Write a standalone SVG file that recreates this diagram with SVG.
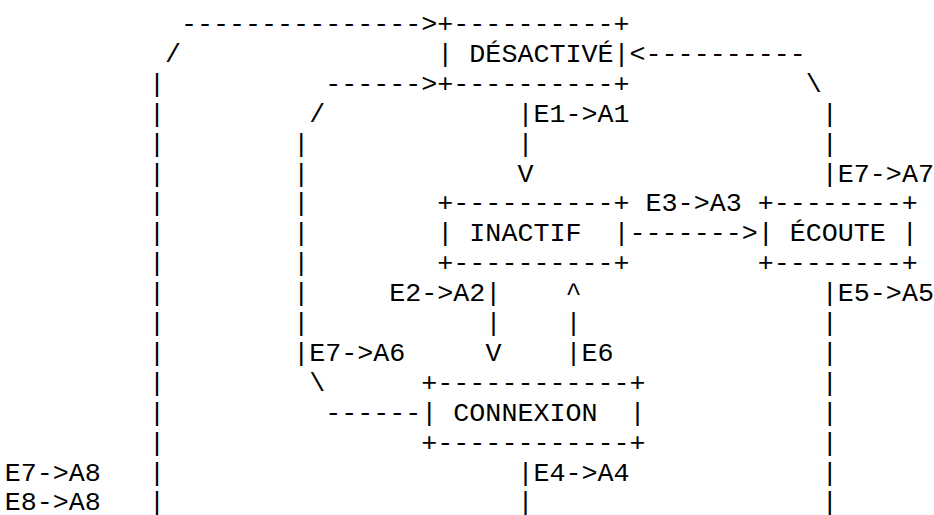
<svg xmlns="http://www.w3.org/2000/svg" width="934" height="515" viewBox="0 0 934 515" xml:space="preserve">
<style>
text{font-family:"Liberation Mono","Courier New",monospace;font-size:26.7px;fill:#000;white-space:pre}
</style>
<rect width="934" height="515" fill="#fff"/>
<g id="connectors">
<text><tspan x="181.02" y="32">---------------&gt;</tspan><tspan x="165" y="61.9">/</tspan><tspan x="629.58" y="61.9">&lt;----------</tspan><tspan x="325.2" y="91.8">------&gt;</tspan><tspan x="805.8" y="91.8">\</tspan><tspan x="309.18" y="121.7">/</tspan><tspan x="517.44" y="121.7">|E1-&gt;A1</tspan><tspan x="517.44" y="151.6">|</tspan><tspan x="517.44" y="181.5">V</tspan><tspan x="821.82" y="181.5">|E7-&gt;A7</tspan><tspan x="645.6" y="211.4">E3-&gt;A3</tspan><tspan x="629.58" y="241.3">-------&gt;</tspan><tspan x="389.28" y="301.1">E2-&gt;A2|</tspan><tspan x="565.5" y="301.1">^</tspan><tspan x="821.82" y="301.1">|E5-&gt;A5</tspan><tspan x="485.4" y="331">|</tspan><tspan x="565.5" y="331">|</tspan><tspan x="293.16" y="360.9">|E7-&gt;A6</tspan><tspan x="485.4" y="360.9">V</tspan><tspan x="565.5" y="360.9">|E6</tspan><tspan x="309.18" y="390.8">\</tspan><tspan x="325.2" y="420.7">------</tspan><tspan x="4.8" y="480.5">E7-&gt;A8</tspan><tspan x="517.44" y="480.5">|E4-&gt;A4</tspan><tspan x="4.8" y="510.4">E8-&gt;A8</tspan><tspan x="517.44" y="510.4">|</tspan></text>
<text><tspan x="148.98" y="91.8">|</tspan><tspan x="148.98" y="121.7">|</tspan><tspan x="148.98" y="151.6">|</tspan><tspan x="148.98" y="181.5">|</tspan><tspan x="148.98" y="211.4">|</tspan><tspan x="148.98" y="241.3">|</tspan><tspan x="148.98" y="271.2">|</tspan><tspan x="148.98" y="301.1">|</tspan><tspan x="148.98" y="331">|</tspan><tspan x="148.98" y="360.9">|</tspan><tspan x="148.98" y="390.8">|</tspan><tspan x="148.98" y="420.7">|</tspan><tspan x="148.98" y="450.6">|</tspan><tspan x="148.98" y="480.5">|</tspan><tspan x="148.98" y="510.4">|</tspan></text>
<text><tspan x="293.16" y="151.6">|</tspan><tspan x="293.16" y="181.5">|</tspan><tspan x="293.16" y="211.4">|</tspan><tspan x="293.16" y="241.3">|</tspan><tspan x="293.16" y="271.2">|</tspan><tspan x="293.16" y="301.1">|</tspan><tspan x="293.16" y="331">|</tspan></text>
<text><tspan x="821.82" y="121.7">|</tspan><tspan x="821.82" y="151.6">|</tspan><tspan x="821.82" y="331">|</tspan><tspan x="821.82" y="360.9">|</tspan><tspan x="821.82" y="390.8">|</tspan><tspan x="821.82" y="420.7">|</tspan><tspan x="821.82" y="450.6">|</tspan><tspan x="821.82" y="480.5">|</tspan><tspan x="821.82" y="510.4">|</tspan></text>
</g>
<g id="node-desactive">
<text><tspan x="437.34" y="32">+----------+</tspan><tspan x="437.34" y="61.9">| DÉSACTIVÉ|</tspan><tspan x="437.34" y="91.8">+----------+</tspan></text>
</g>
<g id="node-inactif">
<text><tspan x="437.34" y="211.4">+----------+</tspan><tspan x="437.34" y="241.3">| INACTIF  |</tspan><tspan x="437.34" y="271.2">+----------+</tspan></text>
</g>
<g id="node-ecoute">
<text><tspan x="757.74" y="211.4">+--------+</tspan><tspan x="757.74" y="241.3">| ÉCOUTE |</tspan><tspan x="757.74" y="271.2">+--------+</tspan></text>
</g>
<g id="node-connexion">
<text><tspan x="421.32" y="390.8">+------------+</tspan><tspan x="421.32" y="420.7">| CONNEXION  |</tspan><tspan x="421.32" y="450.6">+------------+</tspan></text>
</g>
</svg>
